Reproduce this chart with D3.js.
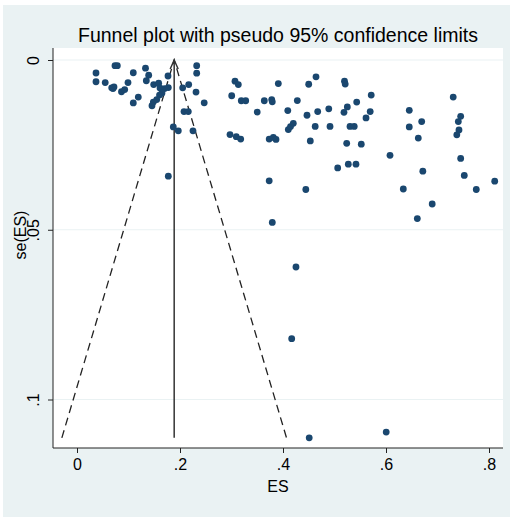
<!DOCTYPE html>
<html>
<head>
<meta charset="utf-8">
<script src="https://cdn.jsdelivr.net/npm/d3@7"></script>
<style>
  body { margin: 0; background: #fff; }
  text { font-family: "Liberation Sans", Arial, sans-serif; fill: #000; }
</style>
</head>
<body>
<script>
// Study effect sizes and their standard errors
const es = [0.0738, 0.0783, 0.0369, 0.0369, 0.0548, 0.0674, 0.0718, 0.0699, 0.0864, 0.0926,
  0.0990, 0.1093, 0.1093, 0.1190, 0.1330, 0.1392, 0.1346, 0.1489, 0.1586, 0.1612,
  0.1699, 0.1773, 0.1650, 0.1602, 0.1548, 0.1482, 0.1456, 0.1767, 0.2052, 0.2169,
  0.2078, 0.2161, 0.2324, 0.2324, 0.2311, 0.2470, 0.1870, 0.1967, 0.2252, 0.1773,
  0.3004, 0.3068, 0.3132, 0.3190, 0.3276, 0.3499, 0.3637, 0.3781, 0.3792, 0.2971,
  0.3093, 0.3179, 0.3732, 0.3812, 0.3864, 0.3732, 0.3909, 0.4499, 0.4641, 0.4278,
  0.4093, 0.4103, 0.4146, 0.4200, 0.4466, 0.4625, 0.4530, 0.4443, 0.4674, 0.4889,
  0.4913, 0.5194, 0.5208, 0.5249, 0.5184, 0.5431, 0.5301, 0.5383, 0.5713, 0.5693,
  0.5612, 0.5237, 0.5520, 0.5062, 0.5268, 0.5417, 0.6078, 0.6336, 0.6452, 0.6452,
  0.6693, 0.6627, 0.6715, 0.6897, 0.7305, 0.7450, 0.7404, 0.7417, 0.7375, 0.7450,
  0.7520, 0.7753, 0.8111, 0.6608, 0.3792, 0.4252, 0.4169, 0.4509, 0.6004];
const se = [0.00168, 0.00168, 0.00383, 0.00640, 0.00664, 0.00820, 0.00796, 0.00841, 0.00935, 0.00870,
  0.00664, 0.00375, 0.01263, 0.01091, 0.00242, 0.00448, 0.00611, 0.00723, 0.00684, 0.00826,
  0.00841, 0.00811, 0.00973, 0.01032, 0.01165, 0.01239, 0.01348, 0.00472, 0.00820, 0.00723,
  0.01519, 0.01519, 0.00168, 0.00389, 0.00944, 0.01260, 0.01971, 0.02086, 0.02086, 0.03422,
  0.01053, 0.00625, 0.00723, 0.01201, 0.01201, 0.01534, 0.01201, 0.01165, 0.01233, 0.02198,
  0.02257, 0.02330, 0.02330, 0.02280, 0.02339, 0.03560, 0.00693, 0.00714, 0.00496, 0.01195,
  0.01490, 0.02050, 0.01962, 0.01864, 0.01628, 0.01956, 0.02383, 0.03814, 0.01519, 0.01437,
  0.01956, 0.00625, 0.00708, 0.01381, 0.01540, 0.01239, 0.01956, 0.01956, 0.01032, 0.01519,
  0.01705, 0.02454, 0.02478, 0.03180, 0.03068, 0.03068, 0.02808, 0.03799, 0.01481, 0.01971,
  0.01814, 0.02301, 0.03274, 0.04242, 0.01091, 0.01658, 0.01814, 0.02059, 0.02204, 0.02900,
  0.03401, 0.03814, 0.03569, 0.04670, 0.04785, 0.06097, 0.08209, 0.11130, 0.10959];

const pooled = 0.1887;
const seMax = 0.1113;

const xTicks = [0, 0.2, 0.4, 0.6, 0.8];
const xTickLabels = ["0", ".2", ".4", ".6", ".8"];
const yTicks = [0, 0.05, 0.1];
const yTickLabels = ["0", ".05", ".1"];

const W = 510, H = 517;
const plot = { left: 53, right: 503, top: 48, bottom: 448 };

const svg = d3.select("body").append("svg")
  .attr("width", W)
  .attr("height", H);

// graph region and plot region
svg.append("rect").attr("x", 3).attr("y", 5).attr("width", W - 3).attr("height", H - 5)
  .attr("fill", "#eaf2f3");
svg.append("rect").attr("x", plot.left).attr("y", plot.top)
  .attr("width", plot.right - plot.left).attr("height", plot.bottom - plot.top)
  .attr("fill", "#fff");

const x = d3.scaleLinear().domain([0, 0.8]).range([77, 489]);
const y = d3.scaleLinear().domain([0, 0.1]).range([60, 399.5]);

// grid lines
svg.append("g").selectAll("line").data(yTicks).join("line")
  .attr("x1", plot.left).attr("x2", plot.right)
  .attr("y1", d => y(d)).attr("y2", d => y(d))
  .attr("stroke", "#eaf2f3").attr("stroke-width", 1.2);

// x axis
const xAxis = svg.append("g")
  .attr("transform", `translate(0,${plot.bottom})`)
  .call(d3.axisBottom(x).tickValues(xTicks).tickSize(5).tickPadding(6)
    .tickFormat((d, i) => xTickLabels[i]));
xAxis.select(".domain").remove();
xAxis.selectAll("line").attr("stroke", "#222");
xAxis.selectAll("text").attr("font-size", 16).attr("fill", "#000");
svg.append("line").attr("x1", plot.left).attr("x2", plot.right)
  .attr("y1", plot.bottom).attr("y2", plot.bottom).attr("stroke", "#222");

// y axis
const yAxis = svg.append("g")
  .attr("transform", `translate(${plot.left},0)`)
  .call(d3.axisLeft(y).tickValues(yTicks).tickSize(5)
    .tickFormat((d, i) => yTickLabels[i]));
yAxis.select(".domain").remove();
yAxis.selectAll("line").attr("stroke", "#222");
yAxis.selectAll("text")
  .attr("font-size", 16).attr("fill", "#000")
  .attr("text-anchor", "middle")
  .attr("transform", "rotate(-90)")
  .attr("x", 0).attr("y", -14).attr("dy", 0);
svg.append("line").attr("x1", plot.left).attr("x2", plot.left)
  .attr("y1", plot.top).attr("y2", plot.bottom).attr("stroke", "#222");

// axis titles
svg.append("text")
  .attr("x", (plot.left + plot.right) / 2).attr("y", 492)
  .attr("text-anchor", "middle").attr("font-size", 16).text("ES");
svg.append("text")
  .attr("transform", `translate(26,235) rotate(-90)`)
  .attr("text-anchor", "middle").attr("font-size", 16).text("se(ES)");

// title
svg.append("text")
  .attr("x", (plot.left + plot.right) / 2).attr("y", 42)
  .attr("text-anchor", "middle").attr("font-size", 19.5)
  .text("Funnel plot with pseudo 95% confidence limits");

// pseudo 95% confidence limits
const funnel = [[pooled - 1.96 * seMax, seMax], [pooled, 0], [pooled + 1.96 * seMax, seMax]];
svg.append("path")
  .attr("d", d3.line().x(d => x(d[0])).y(d => y(d[1]))(funnel))
  .attr("fill", "none").attr("stroke", "#222").attr("stroke-width", 1.3)
  .attr("stroke-dasharray", "8,5");

// pooled estimate line with arrow
svg.append("line")
  .attr("x1", x(pooled)).attr("x2", x(pooled))
  .attr("y1", y(seMax)).attr("y2", y(0))
  .attr("stroke", "#333").attr("stroke-width", 1.5);
svg.append("path")
  .attr("d", `M${x(pooled) - 4},${y(0) + 9}L${x(pooled)},${y(0)}L${x(pooled) + 4},${y(0) + 9}`)
  .attr("fill", "none").attr("stroke", "#333").attr("stroke-width", 1.5);

// study points
svg.append("g").selectAll("circle").data(es).join("circle")
  .attr("cx", d => x(d))
  .attr("cy", (d, i) => y(se[i]))
  .attr("r", 3.4)
  .attr("fill", "#1a476f");
</script>
</body>
</html>
